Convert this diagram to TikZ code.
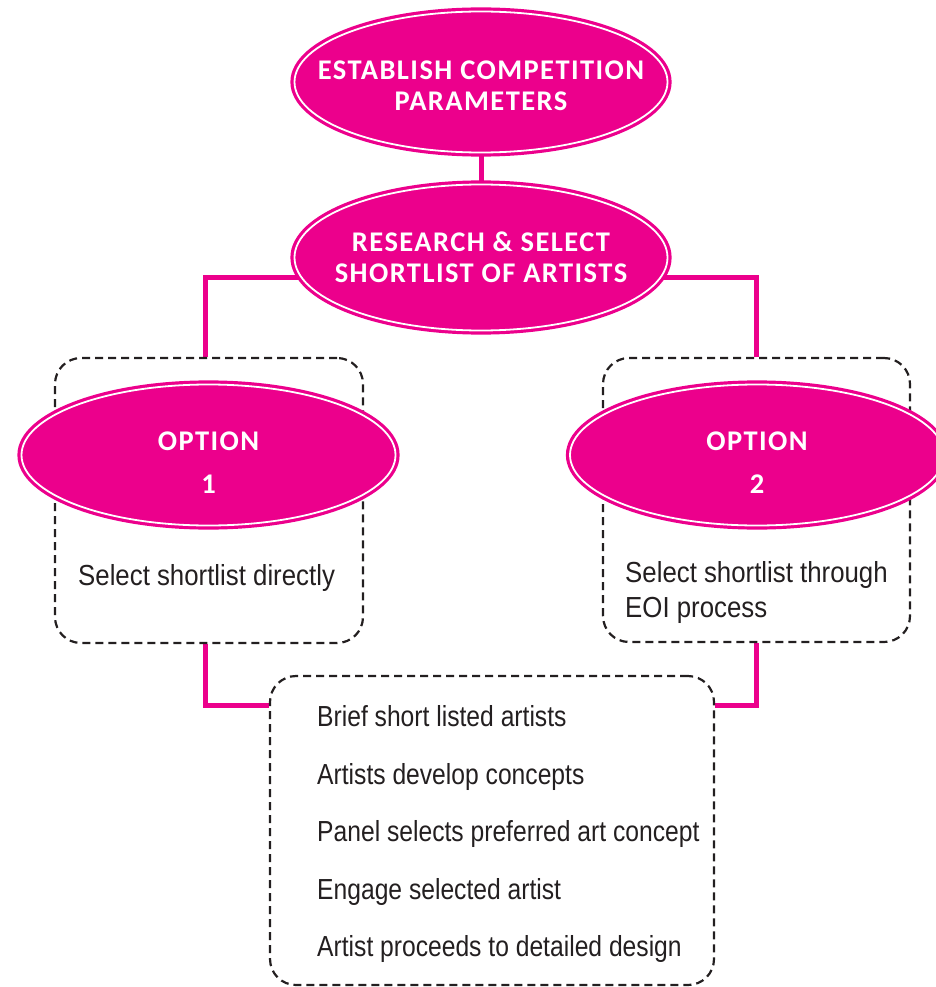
\documentclass[tikz,border=0pt]{standalone}
\usepackage{fontspec}
\setmainfont{Liberation Sans}
\newfontfamily\headfont[LetterSpace=5]{Carlito}
\newfontfamily\bodyfont[FakeStretch=0.89]{Liberation Sans}
\newfontfamily\listfont[FakeStretch=0.85]{Liberation Sans}
\usetikzlibrary{shapes.geometric,backgrounds,calc}
\definecolor{mag}{RGB}{236,0,140}
\definecolor{ink}{RGB}{35,31,32}
\begin{document}
\begin{tikzpicture}[x=1pt,y=-1pt,
  pinkell/.style={ellipse, fill=mag, draw=mag, line width=3.2pt, double=white, double distance=1.8pt, inner sep=0pt},
  headtext/.style={text=white, font=\headfont\bfseries\fontsize{28.5}{31}\selectfont, align=center, inner sep=0pt},
  body/.style={text=ink, font=\bodyfont\fontsize{29}{35}\selectfont, align=left, inner sep=0pt},
  dbox/.style={draw=ink, dash pattern=on 8pt off 5pt, line width=2.2pt, rounded corners=26pt, inner sep=0pt},
  link/.style={draw=mag, line width=5pt}]
\useasboundingbox (0,0) rectangle (936,987);
% dashed boxes
\node[dbox, minimum width=308pt, minimum height=285pt] (b1) at (209,500.5) {};
\node[dbox, minimum width=307pt, minimum height=284pt] (b2) at (756.5,500) {};
\node[dbox, minimum width=444pt, minimum height=309pt] (b3) at (492,830.5) {};
% ellipses
\node[pinkell, minimum width=373pt, minimum height=141pt] (e1) at (481,82) {};
\node[headtext] (e1t) at ([yshift=-4pt]e1.center) {ESTABLISH COMPETITION\\PARAMETERS};
\node[pinkell, minimum width=373pt, minimum height=146pt] (e2) at (481,257.5) {};
\node[headtext] (e2t) at (e2.center) {RESEARCH \& SELECT\\SHORTLIST OF ARTISTS};
\node[pinkell, minimum width=374pt, minimum height=141pt] (o1) at (208.5,455) {};
\node[headtext] (o1t) at ([yshift=-8pt]o1.center) {OPTION\\[12pt]1};
\node[pinkell, minimum width=374pt, minimum height=141pt] (o2) at (757,455) {};
\node[headtext] (o2t) at ([yshift=-8pt]o2.center) {OPTION\\[12pt]2};
% texts
\node[body, anchor=west] (t1) at (78,578) {Select shortlist directly};
\node[body, anchor=west] (t2) at (625,592) {Select shortlist through\\EOI process};
\node[body, anchor=west, font=\listfont\fontsize{29}{57.5}\selectfont] (t3) at (317,834) {Brief short listed artists\\Artists develop concepts\\Panel selects preferred art concept\\Engage selected artist\\Artist proceeds to detailed design};
% connectors
\coordinate (hbar) at (481,277);
\begin{pgfonlayer}{background}
\draw[link] (e1.south) -- (e2.north);
\draw[link] ([xshift=-4pt]b1.north) |- (hbar) -| (b2.north);
\draw[link] ([xshift=-4pt]b1.south) |- ([yshift=-31pt]b3.north west);
\draw[link] (b2.south) |- ([yshift=-31pt]b3.north east);
\end{pgfonlayer}
\end{tikzpicture}
\end{document}
